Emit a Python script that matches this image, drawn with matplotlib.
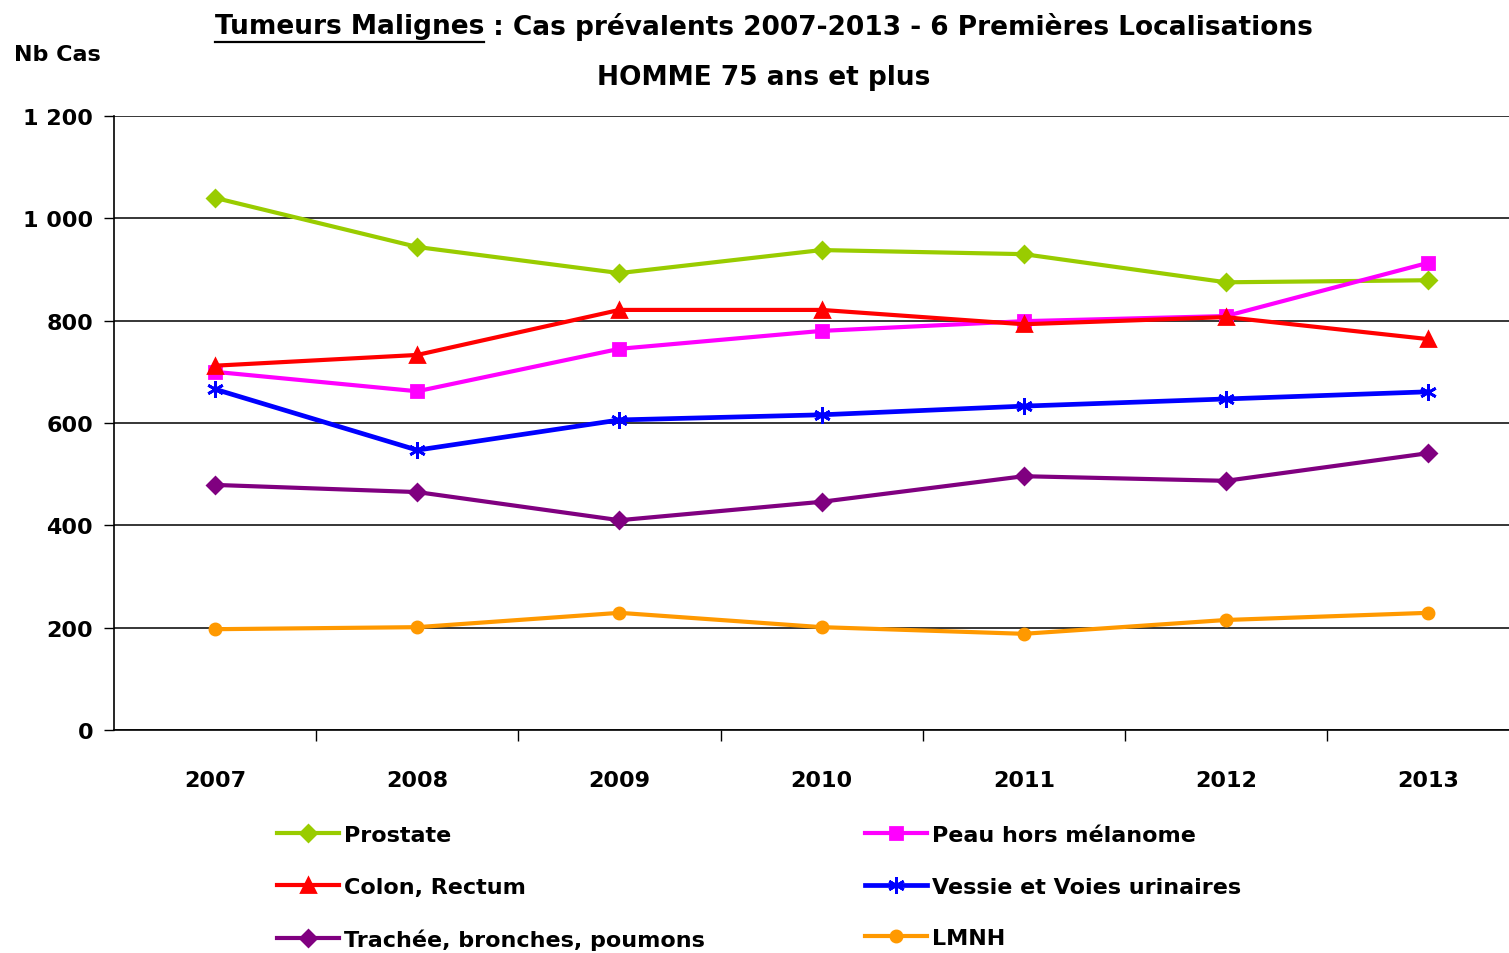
import numpy as np
import matplotlib
matplotlib.use("Agg")
import matplotlib.pyplot as plt
from matplotlib.lines import Line2D

years = ['2007', '2008', '2009', '2010', '2011', '2012', '2013']

prostate = [1040, 944, 893, 938, 930, 875, 879]
peau = [700, 662, 745, 780, 799, 809, 913]
colon = [712, 733, 821, 821, 793, 807, 764]
vessie = [666, 547, 606, 616, 633, 647, 661]
trachee = [479, 465, 410, 446, 496, 487, 541]
lmnh = [197, 201, 229, 201, 188, 215, 229]

plt.rcParams['font.family'] = ['DejaVu Sans']
plt.rcParams['font.weight'] = 'bold'

W, H = 1509, 954
fig = plt.figure(figsize=(W / 100, H / 100), dpi=100)
ax = fig.add_axes([114 / W, 1 - 731 / H, 1395 / W, 614 / H])

x = np.arange(len(years))
# drawing order = Excel series order
series = [
    ('Prostate', prostate, '#99CC00', 'D', 8, 3),
    ('Peau hors mélanome', peau, '#FF00FF', 's', 9, 3),
    ('Colon, Rectum', colon, '#FF0000', '^', 10, 3),
    ('Vessie et Voies urinaires', vessie, '#0000FF', (6, 2, 0), 12, 3.4),
    ('Trachée, bronches, poumons', trachee, '#800080', 'D', 8, 3),
    ('LMNH', lmnh, '#FF9900', 'o', 8, 3),
]
handles = {}
for name, vals, col, mk, ms, lw in series:
    ln, = ax.plot(x, vals, color=col, lw=lw, marker=mk, markersize=ms,
                  markeredgecolor=col, markerfacecolor=col, markeredgewidth=2,
                  label=name, clip_on=False, zorder=3)
    handles[name] = ln

ax.set_ylim(0, 1200)
ax.set_xlim(-0.5, 6.4)
yt = list(range(0, 1201, 200))
ax.set_yticks(yt)
ax.set_yticklabels(['{:,}'.format(v).replace(',', ' ') for v in yt], fontsize=16, fontweight='bold')
ax.yaxis.grid(True, color='black', lw=1.1)
ax.set_axisbelow(True)
ax.tick_params(axis='y', length=7, width=1, pad=8)

ax.set_xticks(x)
ax.set_xticklabels(years, fontsize=16, fontweight='bold')
ax.set_xticks(np.arange(0.5, 6, 1), minor=True)
ax.tick_params(axis='x', which='major', length=0, pad=29)
ax.tick_params(axis='x', which='minor', length=8, width=1, direction='out')

for s in ['top', 'right']:
    ax.spines[s].set_visible(False)
for s in ['left', 'bottom']:
    ax.spines[s].set_color('black')
    ax.spines[s].set_linewidth(1.2)

fig.text(14 / W, 1 - 55 / H, 'Nb Cas', fontsize=16, fontweight='bold', va='center', ha='left')

# title with underlined first part
fig.canvas.draw()
r = fig.canvas.get_renderer()
ty = 1 - 27 / H
t1 = fig.text(0, ty, 'Tumeurs Malignes', fontsize=19, fontweight='bold', va='center', ha='left')
t2 = fig.text(0, ty, ' : Cas prévalents 2007-2013 - 6 Premières Localisations',
              fontsize=19, fontweight='bold', va='center', ha='left')
w1 = t1.get_window_extent(r).width
w2 = t2.get_window_extent(r).width
x0 = 764 - (w1 + w2) / 2
t1.set_x(x0 / W)
t2.set_x((x0 + w1) / W)
fig.add_artist(Line2D([x0 / W, (x0 + w1) / W], [1 - 43 / H, 1 - 43 / H],
                      color='black', lw=1.6, transform=fig.transFigure))
fig.text(764 / W, 1 - 78 / H, 'HOMME 75 ans et plus', fontsize=19, fontweight='bold',
         va='center', ha='center')

legcols = [['Prostate', 'Colon, Rectum', 'Trachée, bronches, poumons'],
           ['Peau hors mélanome', 'Vessie et Voies urinaires', 'LMNH']]
for names, lx in zip(legcols, [277, 865]):
    leg = fig.legend([handles[n] for n in names], names, loc='upper left',
                     bbox_to_anchor=(lx / W, 1 - 826 / H), frameon=False,
                     prop={'size': 16, 'weight': 'bold'}, handlelength=2.8,
                     handletextpad=0.2, labelspacing=1.42, borderaxespad=0, borderpad=0)

fig.savefig('out.png', dpi=100)
